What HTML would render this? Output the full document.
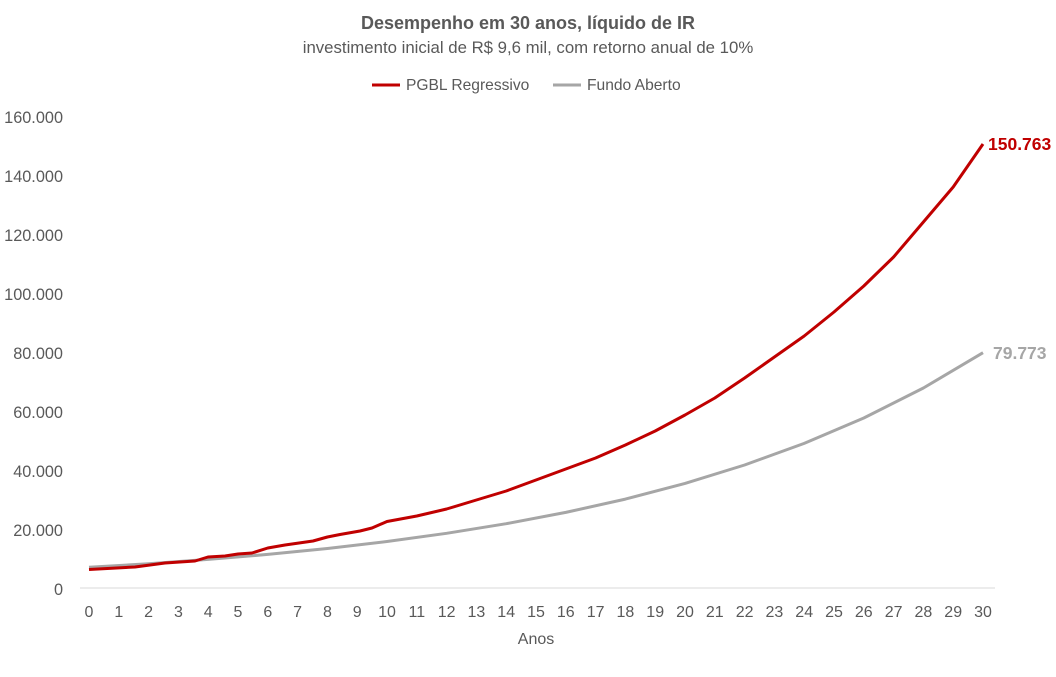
<!DOCTYPE html>
<html><head><meta charset="utf-8"><style>
body{margin:0;background:#fff}
svg text{font-family:"Liberation Sans",sans-serif}
</style></head><body>
<svg width="1056" height="672" xmlns="http://www.w3.org/2000/svg">
<text x="528" y="29" text-anchor="middle" font-size="18" font-weight="bold" fill="#595959">Desempenho em 30 anos, líquido de IR</text>
<text x="528" y="53" text-anchor="middle" font-size="16.8" fill="#595959">investimento inicial de R$ 9,6 mil, com retorno anual de 10%</text>
<line x1="372" y1="85" x2="400" y2="85" stroke="#c00000" stroke-width="3"/>
<text x="406" y="90" font-size="15.6" fill="#595959">PGBL Regressivo</text>
<line x1="553" y1="85" x2="581" y2="85" stroke="#a6a6a6" stroke-width="3"/>
<text x="587" y="90" font-size="15.6" fill="#595959">Fundo Aberto</text>
<g font-size="16.3" fill="#595959" text-anchor="end">
<text x="63" y="123">160.000</text><text x="63" y="182">140.000</text><text x="63" y="241">120.000</text><text x="63" y="300">100.000</text><text x="63" y="359">80.000</text><text x="63" y="418">60.000</text><text x="63" y="477">40.000</text><text x="63" y="536">20.000</text><text x="63" y="595">0</text>
</g>
<line x1="80" y1="588" x2="995" y2="588" stroke="#d9d9d9" stroke-width="1"/>
<g font-size="16" fill="#595959" text-anchor="middle">
<text x="89" y="617">0</text><text x="118.8" y="617">1</text><text x="148.6" y="617">2</text><text x="178.4" y="617">3</text><text x="208.2" y="617">4</text><text x="238" y="617">5</text><text x="267.8" y="617">6</text><text x="297.6" y="617">7</text><text x="327.4" y="617">8</text><text x="357.2" y="617">9</text><text x="387" y="617">10</text><text x="416.8" y="617">11</text><text x="446.6" y="617">12</text><text x="476.4" y="617">13</text><text x="506.2" y="617">14</text><text x="536" y="617">15</text><text x="565.8" y="617">16</text><text x="595.6" y="617">17</text><text x="625.4" y="617">18</text><text x="655.2" y="617">19</text><text x="685" y="617">20</text><text x="714.8" y="617">21</text><text x="744.6" y="617">22</text><text x="774.4" y="617">23</text><text x="804.2" y="617">24</text><text x="834" y="617">25</text><text x="863.8" y="617">26</text><text x="893.6" y="617">27</text><text x="923.4" y="617">28</text><text x="953.2" y="617">29</text><text x="983" y="617">30</text>
<text x="536" y="644">Anos</text>
</g>
<polyline fill="none" stroke="#a6a6a6" stroke-width="3" stroke-linejoin="round" points="89,567.3 148.6,563.7 208.2,559.4 267.8,554.4 327.4,548.5 387,541.5 446.6,533.3 506.2,523.7 565.8,512.4 625.4,499.1 685,483.4 744.6,465 804.2,443.4 863.8,418 923.4,388 983,352.7"/>
<polyline fill="none" stroke="#c00000" stroke-width="3" stroke-linejoin="round" points="89,569.5 135,567 165,563 195,561 208,557 225,556 238,554 252,553 267.8,548 285,545 313,541 327.4,537 340,534.5 360,531 372,528 387,521.5 416.8,516 446.6,509 476.4,500 506.2,491 536,480 565.8,469 595.6,458 625.4,445 655.2,431 685,415 714.8,398 744.6,378 774.4,357 804.2,336 834,312 863.8,286 893.6,257 923.4,222 953.2,187 983,144"/>
<text x="988" y="150" font-size="17.5" font-weight="bold" fill="#c00000">150.763</text>
<text x="993" y="359" font-size="17.5" font-weight="bold" fill="#a6a6a6">79.773</text>
</svg>
</body></html>
